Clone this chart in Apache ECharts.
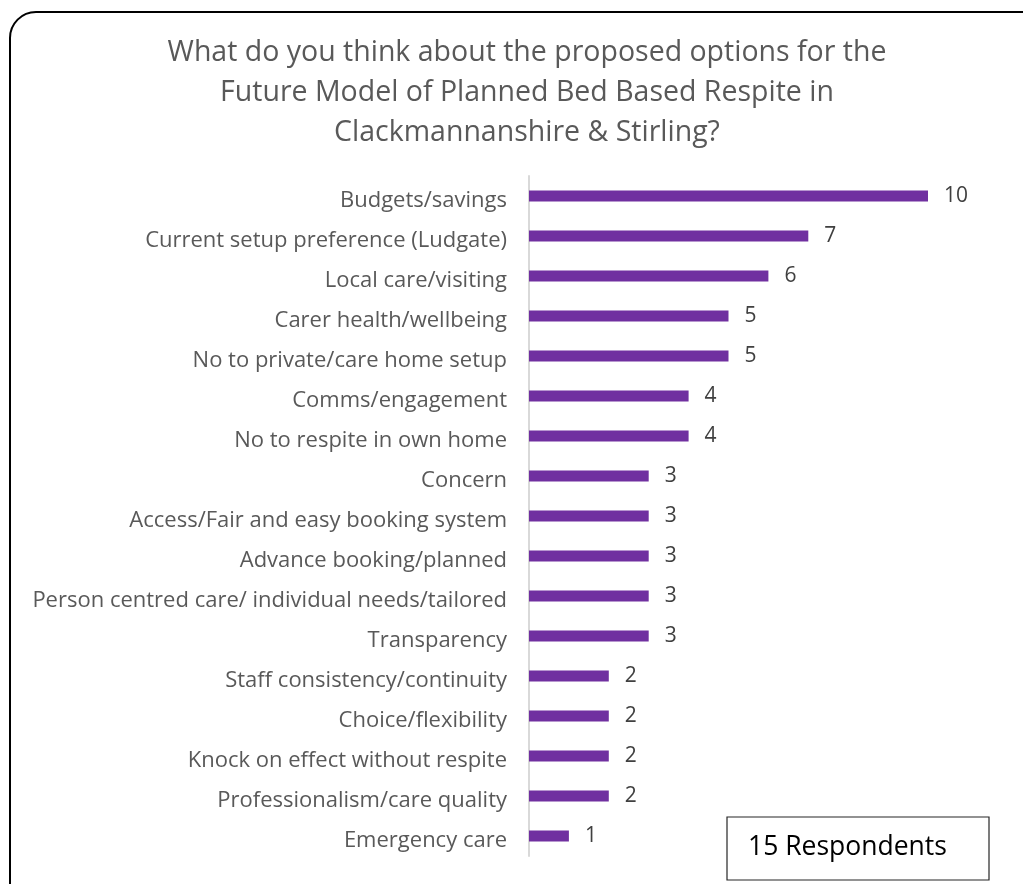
<!DOCTYPE html>
<html>
<head>
<meta charset="utf-8">
<script src="https://cdn.jsdelivr.net/npm/echarts@6/dist/echarts.min.js"></script>
<style>
  html, body { margin: 0; padding: 0; background: #fff; }
  #chart { width: 1023px; height: 884px; }
</style>
</head>
<body>
<div id="chart"></div>
<script>
// Themes raised about the proposed respite options, most frequent first
const categories = [
  'Budgets/savings',
  'Current setup preference (Ludgate)',
  'Local care/visiting',
  'Carer health/wellbeing',
  'No to private/care home setup',
  'Comms/engagement',
  'No to respite in own home',
  'Concern',
  'Access/Fair and easy booking system',
  'Advance booking/planned',
  'Person centred care/ individual needs/tailored',
  'Transparency',
  'Staff consistency/continuity',
  'Choice/flexibility',
  'Knock on effect without respite',
  'Professionalism/care quality',
  'Emergency care'
];
const counts = [10, 7, 6, 5, 5, 4, 4, 3, 3, 3, 3, 3, 2, 2, 2, 2, 1];
const titleLines = [
  'What do you think about the proposed options for the',
  'Future Model of Planned Bed Based Respite in',
  'Clackmannanshire & Stirling?'
];
const respondentNote = '15 Respondents';

const FONT = '"Open Sans", "Noto Sans", sans-serif';
const chart = echarts.init(document.getElementById('chart'));

chart.setOption({
  animation: false,
  title: {
    text: titleLines.join('\n'),
    left: 522,
    textAlign: 'center',
    top: 28,
    textStyle: {
      fontFamily: FONT,
      fontSize: 28.5,
      fontWeight: 'normal',
      color: '#595959',
      lineHeight: 40
    }
  },
  graphic: [
    {
      type: 'rect',
      shape: { x: 10, y: 12, width: 1040, height: 900, r: 26 },
      style: { fill: 'none', stroke: '#000', lineWidth: 2 },
      silent: true
    },
    {
      type: 'rect',
      shape: { x: 727, y: 817, width: 262, height: 63 },
      style: { fill: '#fff', stroke: '#262626', lineWidth: 1.2 },
      z: 10
    },
    {
      type: 'text',
      left: 748,
      top: 834,
      style: {
        text: respondentNote,
        font: '26.5px ' + FONT,
        fill: '#000'
      },
      z: 11
    }
  ],
  grid: {
    left: 529,
    top: 176,
    width: 399,
    height: 680,
    containLabel: false
  },
  xAxis: {
    type: 'value',
    min: 0,
    max: 10,
    show: false
  },
  yAxis: {
    type: 'category',
    data: categories,
    inverse: true,
    axisLine: { show: true, lineStyle: { color: '#d9d9d9', width: 2 } },
    axisTick: { show: false },
    axisLabel: {
      margin: 22,
      formatter: function (v) { return '{c|' + v + '}'; },
      rich: {
        c: {
          fontFamily: FONT,
          fontSize: 22,
          color: '#595959',
          padding: [10, 0, 0, 0]
        }
      }
    }
  },
  series: [{
    type: 'bar',
    data: counts,
    barWidth: 11,
    itemStyle: { color: '#7030A0' },
    label: {
      show: true,
      position: 'right',
      distance: 16,
      fontFamily: FONT,
      fontSize: 21,
      color: '#404040',
      padding: [3, 0, 0, 0]
    }
  }]
});
</script>
</body>
</html>
